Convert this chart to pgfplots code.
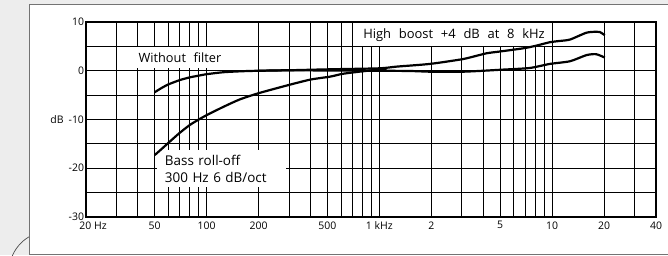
\documentclass[border=0pt]{standalone}
\usepackage{pgfplots}
\pgfplotsset{compat=1.18}
\usepackage{fontspec}
\setmainfont{Open Sans}
\newfontfamily\annot[WordSpace=2.3]{Open Sans}
\begin{document}
\begin{tikzpicture}[x=1bp,y=1bp]
\path[use as bounding box] (0,0) rectangle (668,255);
\fill[black!7] (0,0) rectangle (668,255);
\fill[white] (29,1) rectangle (668,251);
\draw[black!55, line width=0.8bp] (668,251) -- (29,251) -- (29,1) -- (668,1);
\draw[black!70, line width=0.7bp] (50,-17) ++(121:41) arc (121:200:41);
\begin{axis}[
  at={(86bp,38bp)}, anchor=south west,
  scale only axis, width=570bp, height=195bp,
  xmode=log, xmin=20, xmax=40000, ymin=-30, ymax=10,
  xtick={20,50,100,200,500,1000,2000,5000,10000,20000,40000},
  xticklabels={{\hspace*{14bp}20 Hz},50,100,200,500,{1 kHz},2,5,10,20,40},
  minor xtick={30,40,60,70,80,90,300,400,600,700,800,900,3000,4000,6000,7000,8000,9000,30000},
  ytick={-30,-20,-10,0,10},
  yticklabels={-30,-20,{dB\hspace{5bp}-10},0,10},
  minor ytick={-25,-15,-5,5},
  grid=both,
  major grid style={black, line width=1bp},
  minor grid style={black, line width=1bp},
  major tick length=0pt, minor tick length=0pt,
  axis line style={line width=1.8bp},
  ticklabel style={font=\fontsize{10.5}{12}\selectfont},
  xticklabel style={yshift=-1bp},
  yticklabel style={xshift=1.5bp},
  clip=false,
]
\node[fill=white, inner sep=0pt, minimum width=90bp, minimum height=21bp,
  font=\annot\fontsize{12.8}{15}\selectfont] at (axis cs:70,2.72) {Without filter};
\node[fill=white, inner sep=0pt, minimum width=192bp, minimum height=23bp,
  font=\annot\fontsize{13}{15}\selectfont] at (axis cs:2704,7.4) {High boost +4 dB at 8 kHz};
\node[fill=white, inner xsep=8bp, inner ysep=0pt, text width=113bp, align=left,
  minimum height=37bp, font=\annot\fontsize{13.5}{17}\selectfont] at (axis cs:121.8,-20.05)
  {Bass roll-off\\300 Hz 6 dB/oct};
\addplot[black, line width=2.2bp, smooth, tension=0.4] coordinates {
(50,-4.4) (55,-3.5) (60,-2.8) (70,-1.9) (80,-1.35) (90,-1.0) (100,-0.7) (125,-0.3)
(160,-0.1) (200,0) (300,0.1) (500,0.05) (1000,0) (1500,-0.05) (2000,-0.2) (3000,-0.2)
(4000,0.0) (5000,0.2) (7400,0.56) (9700,1.4) (12700,1.95) (15800,3.2) (18000,3.4) (20200,2.7)
};
\addplot[black, line width=2.2bp, smooth, tension=0.4] coordinates {
(200,0) (300,0.1) (517,0.3) (1000,0.5) (1260,0.85) (1960,1.4) (3000,2.35) (3500,2.9)
(4200,3.6) (5000,3.95) (6800,4.6) (8000,5.1) (9700,5.85) (11000,6.1) (12700,6.4)
(15800,7.8) (18000,8.0) (18900,7.95) (20200,7.3)
};
\addplot[black, line width=2.2bp, smooth, tension=0.4] coordinates {
(50,-17.3) (55,-16.0) (64,-13.9) (70,-12.7) (80,-11.1) (90,-10.0) (100,-9.1) (125,-7.4)
(155,-5.9) (200,-4.6) (300,-2.9) (400,-1.8) (520,-1.2) (620,-0.6) (880,0.05) (1100,0.3)
};
\end{axis}
\end{tikzpicture}
\end{document}
